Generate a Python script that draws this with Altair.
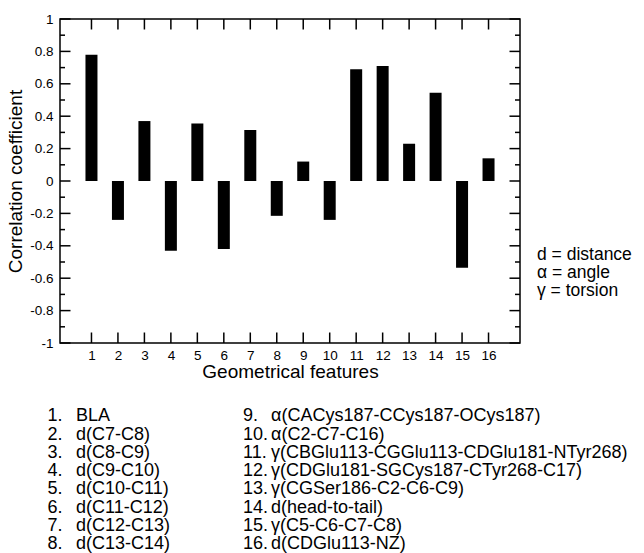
import altair as alt
import pandas as pd

# ---- data ----
features = list(range(1, 17))
corr = [0.78, -0.24, 0.37, -0.43, 0.355, -0.42, 0.315, -0.215,
        0.12, -0.24, 0.69, 0.71, 0.23, 0.545, -0.535, 0.14]

y_major = [-1, -0.8, -0.6, -0.4, -0.2, 0, 0.2, 0.4, 0.6, 0.8, 1]
y_minor = [-0.9, -0.7, -0.5, -0.3, -0.1, 0.1, 0.3, 0.5, 0.7, 0.9]
x_ticks = features

left_nums = ["1.", "2.", "3.", "4.", "5.", "6.", "7.", "8."]
left_names = ["BLA", "d(C7-C8)", "d(C8-C9)", "d(C9-C10)", "d(C10-C11)",
              "d(C11-C12)", "d(C12-C13)", "d(C13-C14)"]
right_nums = ["9.", "10.", "11.", "12.", "13.", "14.", "15.", "16."]
right_names = ["α(CACys187-CCys187-OCys187)", "α(C2-C7-C16)",
               "γ(CBGlu113-CGGlu113-CDGlu181-NTyr268)",
               "γ(CDGlu181-SGCys187-CTyr268-C17)", "γ(CGSer186-C2-C6-C9)",
               "d(head-to-tail)", "γ(C5-C6-C7-C8)", "d(CDGlu113-NZ)"]
legend_lines = ["d = distance", "α = angle", "γ =  torsion"]

x_title = "Geometrical features"
y_title = "Correlation coefficient"

# ---- layout ----
W, H = 460, 324
FONT = "Liberation Sans"
MAJOR, MINOR = 10.5, 5

df = pd.DataFrame({"feature": features, "corr": corr})
one = pd.DataFrame({"k": [0]})

xscale = alt.Scale(domain=[0, 17], nice=False, zero=False)
yscale = alt.Scale(domain=[-1, 1], nice=False)

x_axis = alt.Axis(orient="bottom", values=x_ticks, ticks=False, domain=False,
                  grid=False, title=x_title, labelFontSize=13.5, labelPadding=5,
                  titleFontSize=19, titlePadding=1, labelFont=FONT,
                  titleFont=FONT, titleFontWeight="normal",
                  labelColor="black", titleColor="black")
y_axis = alt.Axis(orient="left", values=y_major, ticks=False, domain=False,
                  grid=False, title=y_title, labelExpr="'' + datum.value",
                  labelFontSize=13.5, labelPadding=7, titleFontSize=19,
                  titlePadding=4, labelFont=FONT, titleFont=FONT,
                  titleFontWeight="normal", labelColor="black",
                  titleColor="black")

main = alt.Chart(df).mark_bar(size=12, color="black", orient="vertical").encode(
    x=alt.X("feature:Q", scale=xscale, axis=x_axis, title=x_title),
    y=alt.Y("corr:Q", scale=yscale, axis=y_axis, title=y_title),
)


def y_ticks(vals, x_from, x_to):
    return alt.Chart(pd.DataFrame({"v": vals})).mark_rule(
        color="black", strokeWidth=1.5).encode(
        y=alt.Y("v:Q", scale=yscale, axis=y_axis, title=y_title),
        x=alt.value(x_from), x2=alt.value(x_to))


def x_tick_rules(vals, y_from, y_to):
    return alt.Chart(pd.DataFrame({"v": vals})).mark_rule(
        color="black", strokeWidth=1.5).encode(
        x=alt.X("v:Q", scale=xscale, axis=x_axis, title=x_title),
        y=alt.value(y_from), y2=alt.value(y_to))


layers = [
    main,
    y_ticks(y_major, 0, MAJOR),
    y_ticks(y_minor, 0, MINOR),
    y_ticks(y_major, W, W - MAJOR),
    y_ticks(y_minor, W, W - MINOR),
    x_tick_rules(x_ticks, H, H - MAJOR),
    x_tick_rules(x_ticks, 0, MAJOR),
]


def text_block(lines, x, y, size, lh):
    return alt.Chart(one).mark_text(
        text=lines, align="left", baseline="alphabetic", font=FONT,
        fontSize=size, lineHeight=lh, color="black",
    ).encode(x=alt.value(x), y=alt.value(y))


LIST_SIZE = 18
LIST_LH = 18.3
list_y = 402.3
layers += [
    text_block(left_nums, -12.5, list_y, LIST_SIZE, LIST_LH),
    text_block(left_names, 16, list_y, LIST_SIZE, LIST_LH),
    text_block(right_nums, 183, list_y, LIST_SIZE, LIST_LH),
    text_block(right_names, 211, list_y, LIST_SIZE, LIST_LH),
    text_block(legend_lines, 477, 241, 17.5, 18.2),
]

chart = alt.layer(*layers).properties(
    width=W, height=H,
    autosize=alt.AutoSizeParams(type="none"),
    padding={"left": 60, "top": 19, "right": 644 - 60 - W, "bottom": 553 - 19 - H},
    background="white",
).configure_view(stroke="black", strokeWidth=1.5)

chart.save("out.html", embed_options={"renderer": "svg", "actions": False})
